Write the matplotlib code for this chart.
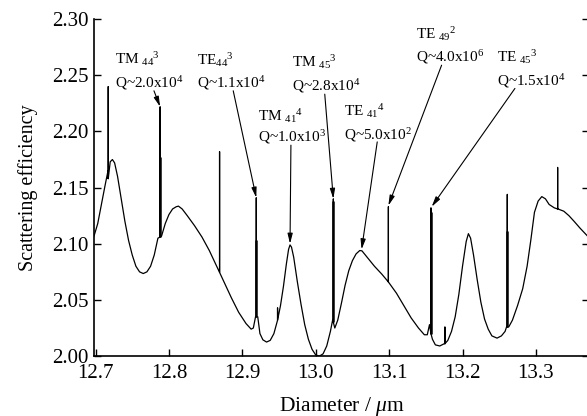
import numpy as np
import matplotlib
matplotlib.use('Agg')
import matplotlib.pyplot as plt

# -------------------- Font settings ---------------------
plt.rcParams['font.family'] = 'Liberation Serif'
plt.rcParams['mathtext.fontset'] = 'custom'
plt.rcParams['mathtext.rm'] = 'Liberation Serif'
plt.rcParams['mathtext.it'] = 'Liberation Serif:italic'
plt.rcParams['mathtext.bf'] = 'Liberation Serif:bold'

# ================= Data =================
# smooth background of the scattering efficiency
diameter = [12.698, 12.703, 12.708, 12.713, 12.717, 12.720, 12.723, 12.726, 12.730,
            12.735, 12.740, 12.745, 12.750, 12.755, 12.760, 12.765, 12.770, 12.775,
            12.780, 12.785, 12.790, 12.795, 12.800, 12.805, 12.810, 12.813, 12.818,
            12.825, 12.835, 12.845, 12.855, 12.865, 12.875, 12.885, 12.895, 12.905,
            12.912, 12.915, 12.918, 12.921, 12.924, 12.928, 12.933, 12.938, 12.943,
            12.948, 12.952, 12.956, 12.960, 12.963, 12.965, 12.967, 12.970, 12.975,
            12.980, 12.985, 12.990, 12.995, 13.000, 13.005, 13.010, 13.015, 13.020,
            13.023, 13.026, 13.030, 13.035, 13.040, 13.045, 13.050, 13.055, 13.060,
            13.063, 13.070, 13.080, 13.090, 13.099, 13.110, 13.120, 13.130, 13.140,
            13.148, 13.152, 13.155, 13.159, 13.163, 13.169, 13.175, 13.180, 13.185,
            13.190, 13.195, 13.200, 13.205, 13.208, 13.211, 13.215, 13.220, 13.225,
            13.230, 13.235, 13.240, 13.247, 13.253, 13.258, 13.260, 13.263, 13.268,
            13.275, 13.282, 13.288, 13.293, 13.298, 13.303, 13.308, 13.313, 13.318,
            13.325, 13.330, 13.338, 13.345, 13.352, 13.360, 13.373]
efficiency = [2.107, 2.118, 2.135, 2.152, 2.165, 2.173, 2.175, 2.172, 2.160,
              2.140, 2.120, 2.103, 2.090, 2.080, 2.075, 2.0735, 2.075, 2.080,
              2.090, 2.105, 2.107, 2.118, 2.126, 2.131, 2.133, 2.1335, 2.131,
              2.125, 2.116, 2.106, 2.094, 2.080, 2.066, 2.052, 2.039, 2.029,
              2.024, 2.025, 2.035, 2.035, 2.020, 2.0145, 2.0125, 2.014, 2.020,
              2.032, 2.045, 2.062, 2.082, 2.095, 2.099, 2.097, 2.088, 2.066,
              2.046, 2.028, 2.015, 2.006, 2.001, 2.000, 2.002, 2.009, 2.022,
              2.032, 2.025, 2.032, 2.047, 2.063, 2.076, 2.085, 2.091, 2.094,
              2.0937, 2.088, 2.080, 2.073, 2.066, 2.056, 2.045, 2.034, 2.025,
              2.019, 2.019, 2.028, 2.015, 2.010, 2.009, 2.011, 2.014, 2.022,
              2.035, 2.055, 2.080, 2.102, 2.109, 2.105, 2.090, 2.068, 2.048,
              2.033, 2.024, 2.018, 2.016, 2.018, 2.022, 2.026, 2.026, 2.032,
              2.045, 2.060, 2.080, 2.103, 2.128, 2.138, 2.142, 2.140, 2.135,
              2.132, 2.131, 2.129, 2.125, 2.120, 2.114, 2.105]

# sharp resonances (position, base, top, top of the thick part)
spike_d = [12.7173, 12.788, 12.869, 12.919, 12.948, 13.024, 13.099, 13.157, 13.176, 13.261, 13.3296]
spike_base = [2.158, 2.106, 2.0745, 2.035, 2.032, 2.030, 2.066, 2.020, 2.011, 2.026, 2.131]
spike_top = [2.240, 2.222, 2.182, 2.141, 2.043, 2.140, 2.133, 2.132, 2.026, 2.144, 2.168]
thick_top = [2.158, 2.177, 2.0745, 2.103, 2.032, 2.138, 2.066, 2.128, 2.011, 2.111, 2.131]

# annotations
mode_labels = [r'TM $_{44}{}^{3}$', r'TE$_{44}{}^{3}$', r'TM $_{41}{}^{4}$', r'TM $_{45}{}^{3}$',
               r'TE $_{41}{}^{4}$', r'TE $_{49}{}^{2}$', r'TE $_{45}{}^{3}$']
q_labels = [r'Q~2.0x10$^{4}$', r'Q~1.1x10$^{4}$', r'Q~1.0x10$^{3}$', r'Q~2.8x10$^{4}$',
            r'Q~5.0x10$^{2}$', r'Q~4.0x10$^{6}$', r'Q~1.5x10$^{4}$']
label_x = [12.7264, 12.8381, 12.9212, 12.9672, 13.0388, 13.1365, 13.2473]
label_y1 = [2.2599, 2.2590, 2.2095, 2.2575, 2.2136, 2.2828, 2.2620]
label_y2 = [2.2394, 2.2394, 2.1907, 2.2368, 2.1929, 2.2620, 2.2412]
arrow_from = [(12.7796, 2.2362), (12.8876, 2.2362), (12.9662, 2.1878), (13.0123, 2.2332),
              (13.0838, 2.1907), (13.1715, 2.2590), (13.2714, 2.2383)]
arrow_to = [(12.788, 2.222), (12.919, 2.141), (12.965, 2.100), (13.024, 2.140),
            (13.0625, 2.095), (13.099, 2.134), (13.158, 2.133)]

# ================= Build curve ====================
pts = list(zip(diameter, efficiency))
for d, b, t in zip(spike_d, spike_base, spike_top):
    pts += [(d - 1e-5, b), (d, t), (d + 1e-5, b)]
pts.sort()
xs = np.array([p[0] for p in pts])
ys = np.array([p[1] for p in pts])

# ================= Plotting ====================
fig = plt.figure(figsize=(5.87, 4.16), dpi=100)
ax = fig.add_axes([0.160, 0.144, 0.844, 0.810])

ax.plot(xs, ys, color='black', linewidth=0.9)
ax.vlines(spike_d, spike_base, thick_top, color='black', linewidth=1.8)

for i in range(len(mode_labels)):
    ax.text(label_x[i], label_y1[i], mode_labels[i], fontsize=11, va='baseline', ha='left')
    ax.text(label_x[i], label_y2[i], q_labels[i], fontsize=11, va='baseline', ha='left')
    ax.annotate('', xy=arrow_to[i], xytext=arrow_from[i],
                arrowprops=dict(arrowstyle='-|>,head_length=0.6,head_width=0.15',
                                color='black', lw=0.8, shrinkA=0, shrinkB=0))

ax.set_xlim(12.6978, 13.3728)
ax.set_ylim(2.00, 2.30)
ax.set_xticks([12.7, 12.8, 12.9, 13.0, 13.1, 13.2, 13.3])
ax.set_xticklabels(['12.7', '12.8', '12.9', '13.0', '13.1', '13.2', '13.3'])
ax.set_yticks([2.00, 2.05, 2.10, 2.15, 2.20, 2.25, 2.30])
ax.set_yticklabels(['2.00', '2.05', '2.10', '2.15', '2.20', '2.25', '2.30'])

ax.spines['top'].set_visible(False)
for s in ['left', 'bottom', 'right']:
    ax.spines[s].set_linewidth(1.2)
ax.tick_params(axis='both', direction='in', length=5, width=1, labelsize=15)
ax.tick_params(axis='x', pad=6)
ax.tick_params(axis='y', right=True, pad=4)

ax.set_xlabel(r'Diameter / $\mu$m', fontsize=15.5, labelpad=8)
ax.set_ylabel('Scattering efficiency', fontsize=14.5, labelpad=10)

fig.savefig('out.png', dpi=100)
